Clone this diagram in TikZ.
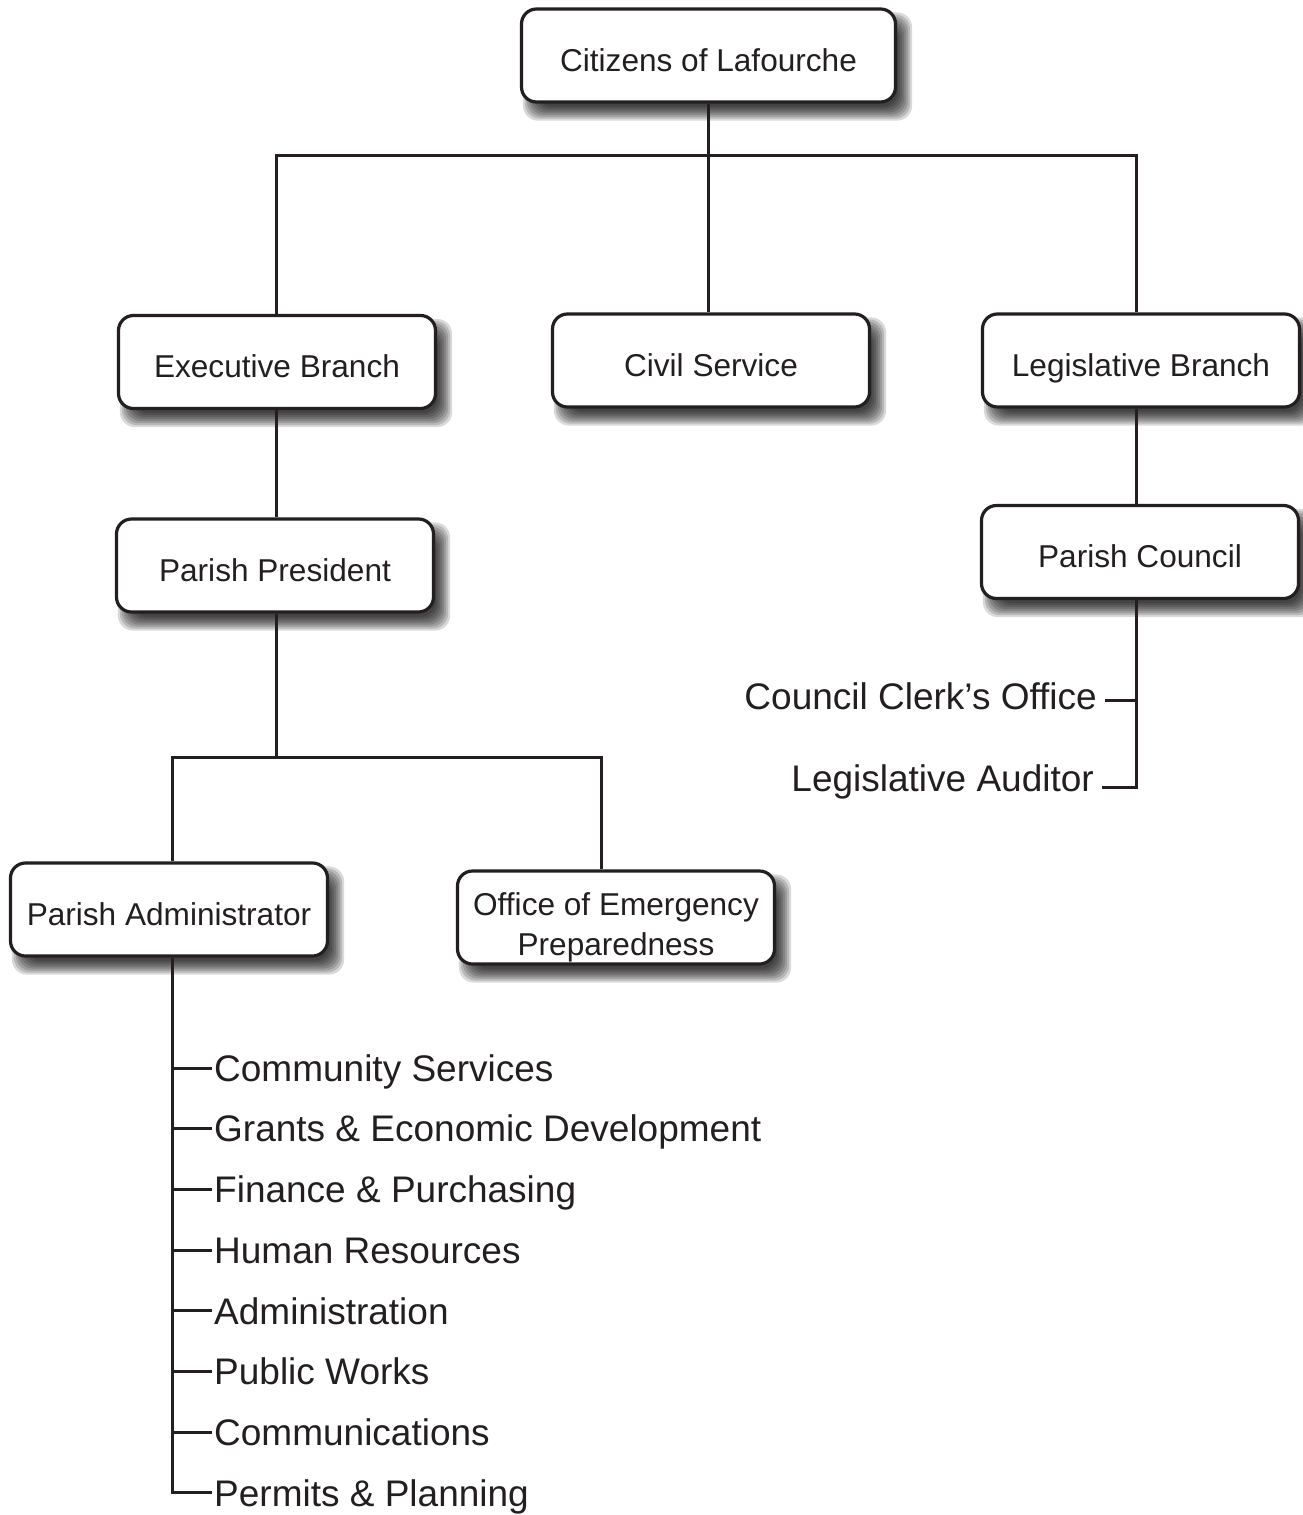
\documentclass[tikz,border=0pt]{standalone}
\usepackage{fontspec}
\setmainfont{Liberation Sans}
\usetikzlibrary{backgrounds}
\definecolor{ink}{RGB}{35,31,32}
\newcommand\boxfont{\fontsize{31.6}{40}\selectfont}
\newcommand\listfont{\fontsize{37}{44}\selectfont}
\newcommand\boxshadow[1]{%
  \foreach \k in {0,...,7}{%
    \fill[black,opacity=0.15,rounded corners=15pt]
      ([shift={(17-2*\k,19-2*\k)}]#1.north west) rectangle
      ([shift={(1+2*\k,3+2*\k)}]#1.south east);}}
\begin{document}
\begin{tikzpicture}[x=1pt,y=-1pt,
  box/.style={draw=ink,line width=3.2pt,fill=white,rounded corners=15pt,
    minimum width=317pt,minimum height=93pt,inner sep=0pt,font=\boxfont,
    text=ink,text height=31pt,text depth=0pt},
  conn/.style={draw=ink,line width=3pt},
  item/.style={font=\listfont,text=ink,inner xsep=2pt,inner ysep=0pt,
    text height=26.5pt,text depth=0pt,anchor=west},
  side/.style={font=\listfont,text=ink,inner sep=0pt,anchor=base east}]
\useasboundingbox (0,0) rectangle (1303,1515);

% boxes
\node[box,minimum width=374pt] (cit) at (708.5,55.5) {Citizens of Lafourche};
\node[box] (exe) at (277,362) {Executive Branch};
\node[box] (civ) at (711,360.5) {Civil Service};
\node[box] (leg) at (1141,360.5) {Legislative Branch};
\node[box] (pp) at (275,565.5) {Parish President};
\node[box] (pc) at (1140,552) {Parish Council};
\node[box] (pa) at (169,909.5) {Parish Administrator};
\node[box,text height=75pt,text depth=0pt] (oep) at (616,917.5)
  {\begin{tabular}[b]{@{}c@{}}Office of Emergency\\Preparedness\end{tabular}};

% background and shadows
\begin{pgfonlayer}{background}
\fill[white] (0,0) rectangle (1303,1515);
\foreach \n in {cit,exe,civ,leg,pp,pc,pa,oep}{\boxshadow{\n}}
\end{pgfonlayer}

% helper coordinates
\coordinate (hl) at (276,155);
\coordinate (hr) at (1136.5,155);
\coordinate (vx) at (276.5,0);
\coordinate (ml) at (172.5,757);
\coordinate (mr) at (601.5,757);
\coordinate (lx) at (172.5,0);

% top level connectors
\draw[conn] (cit.south) -- (cit.south |- civ.north);
\draw[conn] (hl |- exe.north) -- (hl) -- (hr) -- (hr |- leg.north);
\draw[conn] (vx |- exe.south) -- (vx |- pp.north);
\draw[conn] (vx |- pp.south) -- (vx |- ml);
\draw[conn] (ml |- pa.north) -- (ml) -- (mr) -- (mr |- oep.north);
\draw[conn] (hr |- leg.south) -- (hr |- pc.north);

% council side items
\node[side] (clerk) at (1097,709) {Council Clerk’s Office};
\node[side] (aud) at (1094,791) {Legislative Auditor};
\coordinate (ct) at (1105,700.5);
\coordinate (at) at (1102,787);
\draw[conn] (ct) -- (ct -| hr);
\draw[conn] (hr |- pc.south) -- (hr |- at) -- (at);

% administrator list
\node[item] (l1) at (212,1068) {Community Services};
\node[item] (l2) at (212,1128.7) {Grants \& Economic Development};
\node[item] (l3) at (212,1189.4) {Finance \& Purchasing};
\node[item] (l4) at (212,1250.1) {Human Resources};
\node[item] (l5) at (212,1310.8) {Administration};
\node[item] (l6) at (212,1371.5) {Public Works};
\node[item] (l7) at (212,1432.2) {Communications};
\node[item] (l8) at (212,1492.9) {Permits \& Planning};
\draw[conn] (lx |- pa.south) -- (lx |- l8.west) -- (l8.west);
\foreach \i in {1,...,7}{\draw[conn] (lx |- l\i.west) -- (l\i.west);}
\end{tikzpicture}
\end{document}
